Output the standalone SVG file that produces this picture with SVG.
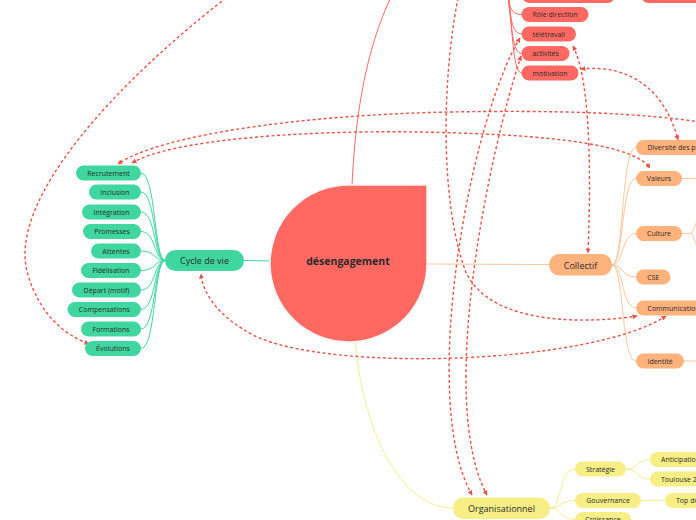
<svg xmlns="http://www.w3.org/2000/svg" width="696" height="520" viewBox="0 0 696 520">
<defs>
<style>
text{font-family:"Open Sans","Noto Sans","Liberation Sans",sans-serif;fill:#2a2a2a;dominant-baseline:central}
.s{font-size:7px;text-anchor:middle}
.sl{font-size:7px;text-anchor:start}
.m{font-size:9px;text-anchor:middle}
.g rect{fill:#3fd6a0}
.r rect{fill:#ff6961}
.o rect{fill:#ffb27b}
.y rect{fill:#f7ee86}
.cg{fill:none;stroke:#40d6a0;stroke-width:1}
.cr{fill:none;stroke:#ff6961;stroke-width:1}
.co{fill:none;stroke:#ffc69c;stroke-width:1}
.cy{fill:none;stroke:#f6ee92;stroke-width:1}
.d{fill:none;stroke:#ec5046;stroke-width:1.4;stroke-dasharray:3 2.5}
</style>
<marker id="ah" viewBox="0 0 10 10" refX="9" refY="5" markerWidth="5" markerHeight="5" orient="auto-start-reverse" markerUnits="userSpaceOnUse">
<path d="M0,0 L10,5 L0,10 z" fill="#ec5046"/>
</marker>
</defs>
<rect width="696" height="520" fill="#ffffff"/>

<g id="connectors">
<path class="cr" d="M352,185 C355,120 365,50 392,-5"/>
<path class="cg" d="M244,260.5 L271,261"/>
<path class="co" d="M427,264 L549,264.5"/>
<path class="cy" d="M355,338 C362,430 400,508 453,508"/>
<path class="cg" d="M141,173 C156,173 154,260.5 165,260.5"/>
<path class="cg" d="M141,192 C156,192 154,260.5 165,260.5"/>
<path class="cg" d="M141,212 C156,212 154,260.5 165,260.5"/>
<path class="cg" d="M141,231.5 C156,231.5 154,260.5 165,260.5"/>
<path class="cg" d="M141,251 C156,251 154,260.5 165,260.5"/>
<path class="cg" d="M141,270.5 C156,270.5 154,260.5 165,260.5"/>
<path class="cg" d="M141,290 C156,290 154,260.5 165,260.5"/>
<path class="cg" d="M141,309.5 C156,309.5 154,260.5 165,260.5"/>
<path class="cg" d="M141,329 C156,329 154,260.5 165,260.5"/>
<path class="cg" d="M141,348.5 C156,348.5 154,260.5 165,260.5"/>
<path class="cr" d="M506,-12 C509,-8 510,-5 522,-5"/>
<path class="cr" d="M506,-12 C510,7 510,14.5 522,14.5"/>
<path class="cr" d="M507,-12 C511,17 511,34 522,34"/>
<path class="cr" d="M507,-12 C512,27 512,53.5 522,53.5"/>
<path class="cr" d="M508,-12 C513,37 513,73 522,73"/>
<path class="cr" d="M615,-5 L641,-5"/>
<path class="co" d="M612,265 C624,265 621,147.5 636,147.5"/>
<path class="co" d="M612,265 C624,265 621,178.5 636,178.5"/>
<path class="co" d="M612,265 C624,265 621,233.5 636,233.5"/>
<path class="co" d="M612,265 C624,265 621,277 636,277"/>
<path class="co" d="M612,265 C624,265 621,308 636,308"/>
<path class="co" d="M612,265 C624,265 621,361 636,361"/>
<path class="co" d="M682,178.5 L700,178.5"/>
<path class="co" d="M682,233.5 L690,233.5 C695,233.5 693,222 700,220"/>
<path class="co" d="M690,233.5 C695,233.5 693,245 700,247"/>
<path class="co" d="M684,361 L700,361"/>
<path class="cy" d="M550,508 C562,508 559,469 575,469"/>
<path class="cy" d="M550,508 C562,508 559,500.5 575,500.5"/>
<path class="cy" d="M550,508 C562,508 559,519.5 575,519.5"/>
<path class="cy" d="M626,469 C639,469 636,459.5 650,459.5"/>
<path class="cy" d="M626,469 C639,469 636,479 650,479"/>
<path class="cy" d="M641,500.5 L665,500.5"/>
<path class="d" marker-end="url(#ah)" d="M226,-2 C120,80 5,200 28,275 C40,315 65,335 89,344"/>
<path class="d" marker-end="url(#ah)" d="M700,122 C640,113 560,110 450,112 C300,115 160,135 118,164"/>
<path class="d" marker-start="url(#ah)" marker-end="url(#ah)" d="M132,163 C170,140 300,130 420,132 C520,134 630,140 650,168"/>
<path class="d" marker-start="url(#ah)" marker-end="url(#ah)" d="M581,69 C630,64 665,90 678,140"/>
<path class="d" marker-start="url(#ah)" marker-end="url(#ah)" d="M573,46 C588,75 592,150 588,253"/>
<path class="d" marker-start="url(#ah)" marker-end="url(#ah)" d="M520,38 C470,120 418,400 472,495"/>
<path class="d" marker-start="url(#ah)" marker-end="url(#ah)" d="M521,56 C490,150 436,400 487,495"/>
<path class="d" marker-end="url(#ah)" d="M458,-2 C442,80 440,200 465,270 C490,330 600,322 637,316"/>
<path class="d" marker-start="url(#ah)" marker-end="url(#ah)" d="M666,316 C590,365 330,372 255,336 C220,318 203,295 201,274"/>
</g>

<g id="center">
<path d="M348.5,185 H427 V261 A78.5,78.5 0 1 1 348.5,185 Z" fill="#ff6961" stroke="#f2f2f2" stroke-width="1.5"/>
<text x="348" y="261" style="font-size:10.5px;font-weight:bold;text-anchor:middle">désengagement</text>
</g>

<g id="cycle" class="g"><rect x="165" y="250" width="79" height="21" rx="10.5"/><text class="m" x="204.5" y="260.5">Cycle de vie</text></g>
<g id="recrutement" class="g"><rect x="76" y="165.5" width="65" height="15" rx="7.5"/><text class="s" x="108.5" y="173">Recrutement</text></g>
<g id="inclusion" class="g"><rect x="89" y="184.5" width="52" height="15" rx="7.5"/><text class="s" x="115" y="192">Inclusion</text></g>
<g id="integration" class="g"><rect x="82" y="204.5" width="59" height="15" rx="7.5"/><text class="s" x="111.5" y="212">Intégration</text></g>
<g id="promesses" class="g"><rect x="83" y="224" width="58" height="15" rx="7.5"/><text class="s" x="112" y="231.5">Promesses</text></g>
<g id="attentes" class="g"><rect x="91" y="243.5" width="50" height="15" rx="7.5"/><text class="s" x="116" y="251">Attentes</text></g>
<g id="fidelisation" class="g"><rect x="81" y="263" width="60" height="15" rx="7.5"/><text class="s" x="111" y="270.5">Fidélisation</text></g>
<g id="depart" class="g"><rect x="72" y="282.5" width="69" height="15" rx="7.5"/><text class="s" x="106.5" y="290">Départ (motif)</text></g>
<g id="compensations" class="g"><rect x="67.5" y="302" width="73.5" height="15" rx="7.5"/><text class="s" x="104.3" y="309.5">Compensations</text></g>
<g id="formations" class="g"><rect x="81" y="321.5" width="60" height="15" rx="7.5"/><text class="s" x="111" y="329">Formations</text></g>
<g id="evolutions" class="g"><rect x="85" y="341" width="56" height="15" rx="7.5"/><text class="s" x="113" y="348.5">Évolutions</text></g>

<g id="top1" class="r"><rect x="522" y="-13" width="93" height="16" rx="7.5"/></g>
<g id="top2" class="r"><rect x="641" y="-13" width="70" height="16" rx="7.5"/></g>
<g id="role" class="r"><rect x="521.5" y="7" width="67" height="15" rx="7.5"/><text class="s" x="555" y="14.5">Rôle direction</text></g>
<g id="teletravail" class="r"><rect x="521.5" y="26.5" width="54.5" height="15" rx="7.5"/><text class="s" x="548.7" y="34">télétravail</text></g>
<g id="activites" class="r"><rect x="521.5" y="46" width="48" height="15" rx="7.5"/><text class="s" x="545.5" y="53.5">activités</text></g>
<g id="motivation" class="r"><rect x="521.5" y="65.5" width="57" height="15" rx="7.5"/><text class="s" x="550" y="73">motivation</text></g>

<g id="collectif" class="o"><rect x="549" y="254" width="63" height="21.5" rx="10.5"/><text class="m" x="580.5" y="265">Collectif</text></g>
<g id="diversite" class="o"><rect x="636" y="140" width="80" height="15" rx="7.5"/><text class="sl" x="647.5" y="147.5">Diversité des p</text></g>
<g id="valeurs" class="o"><rect x="636" y="171" width="46" height="15" rx="7.5"/><text class="s" x="659" y="178.5">Valeurs</text></g>
<g id="culture" class="o"><rect x="636" y="226" width="46" height="15" rx="7.5"/><text class="s" x="659" y="233.5">Culture</text></g>
<g id="cse" class="o"><rect x="636" y="269.5" width="34.5" height="15" rx="7.5"/><text class="s" x="653.2" y="277">CSE</text></g>
<g id="communication" class="o"><rect x="636" y="300.5" width="80" height="15" rx="7.5"/><text class="sl" x="647.5" y="308">Communication</text></g>
<g id="identite" class="o"><rect x="636" y="353.5" width="48" height="15" rx="7.5"/><text class="s" x="660" y="361">Identité</text></g>

<g id="organisationnel" class="y"><rect x="453" y="497.5" width="97" height="21.5" rx="10.5"/><text class="m" x="501.5" y="508.5">Organisationnel</text></g>
<g id="strategie" class="y"><rect x="575" y="461.5" width="51" height="15" rx="7.5"/><text class="s" x="600.5" y="469">Stratégie</text></g>
<g id="gouvernance" class="y"><rect x="575" y="493" width="66" height="15" rx="7.5"/><text class="s" x="608" y="500.5">Gouvernance</text></g>
<g id="croissance" class="y"><rect x="575" y="512" width="56" height="15" rx="7.5"/><text class="s" x="603" y="519.5">Croissance</text></g>
<g id="anticipation" class="y"><rect x="650" y="452" width="70" height="15" rx="7.5"/><text class="sl" x="661" y="459.5">Anticipation</text></g>
<g id="toulouse" class="y"><rect x="650" y="471.5" width="70" height="15" rx="7.5"/><text class="sl" x="661" y="479">Toulouse 2</text></g>
<g id="topdown" class="y"><rect x="665" y="493" width="50" height="15" rx="7.5"/><text class="sl" x="676" y="500.5">Top do</text></g>
</svg>
